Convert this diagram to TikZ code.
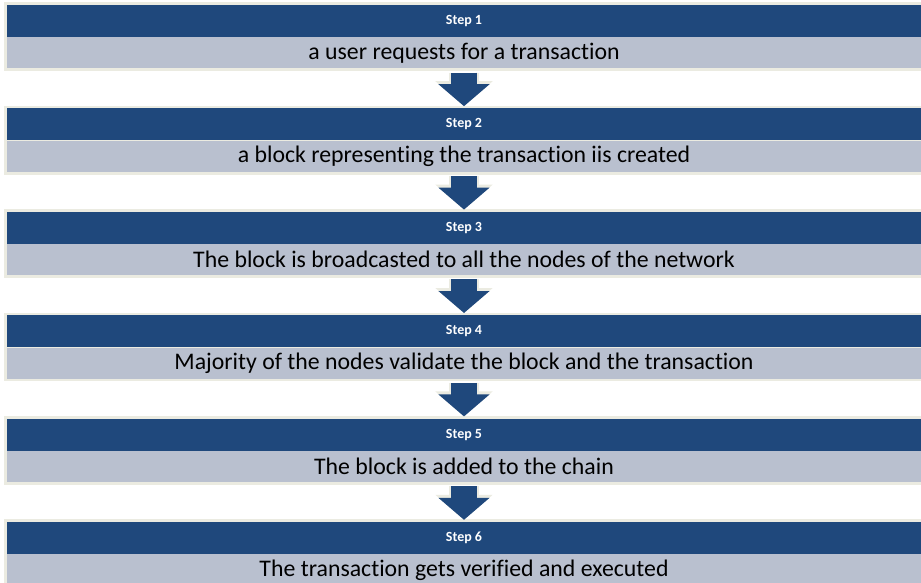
\documentclass[tikz,border=0pt]{standalone}
\usepackage{fontspec}
\setmainfont{Carlito}[Ligatures=NoCommon]
\usepackage{xcolor}
\usetikzlibrary{positioning,fit,backgrounds,arrows.meta}

\definecolor{stepblue}{HTML}{1F487C}
\definecolor{steplight}{HTML}{B9C0CF}
\definecolor{stepedge}{HTML}{EBEBE1}

\begin{document}
\begin{tikzpicture}[x=1pt,y=1pt,
  stephead/.style={fill=stepblue, text=white, font=\bfseries\fontsize{14}{16}\selectfont,
    minimum width=914pt, minimum height=32pt, inner sep=0pt},
  stepbody/.style={fill=steplight, text=black, font=\fontsize{23.8}{26}\selectfont,
    minimum width=914pt, minimum height=31pt, inner sep=0pt},
  stepframe/.style={fill=stepedge, inner sep=2.5pt},
  flow/.style={draw=stepblue, line width=26pt, shorten <=4pt, shorten >=2pt,
    -{Triangle[width=50pt, length=22pt]},
    preaction={draw=stepedge, line width=30pt, -{Triangle[width=56pt, length=25pt]}}}]
\useasboundingbox (0,0) rectangle (921,-582);

% Step 1
\node[stephead] (h1) at (464,-21) {Step 1};
\node[stepbody, below=0pt of h1] (b1) {a user requests for a transaction};

% Step 2
\node[stephead, below=39.6pt of b1] (h2) {Step 2};
\node[stepbody, below=0pt of h2] (b2) {a block representing the transaction iis created};

% Step 3
\node[stephead, below=39.6pt of b2] (h3) {Step 3};
\node[stepbody, below=0pt of h3] (b3) {The block is broadcasted to all the nodes of the network};

% Step 4
\node[stephead, below=39.6pt of b3] (h4) {Step 4};
\node[stepbody, below=0pt of h4] (b4) {Majority of the nodes validate the block and the transaction};

% Step 5
\node[stephead, below=39.6pt of b4] (h5) {Step 5};
\node[stepbody, below=0pt of h5] (b5) {The block is added to the chain};

% Step 6
\node[stephead, below=39.6pt of b5] (h6) {Step 6};
\node[stepbody, below=0pt of h6] (b6) {The transaction gets verified and executed};

% Light frames behind each step
\begin{scope}[on background layer]
\node[stepframe, fit=(h1)(b1)] (f1) {};
\node[stepframe, fit=(h2)(b2)] (f2) {};
\node[stepframe, fit=(h3)(b3)] (f3) {};
\node[stepframe, fit=(h4)(b4)] (f4) {};
\node[stepframe, fit=(h5)(b5)] (f5) {};
\node[stepframe, fit=(h6)(b6)] (f6) {};
\end{scope}

% Arrows between steps
\draw[flow] (b1) -- (h2);
\draw[flow] (b2) -- (h3);
\draw[flow] (b3) -- (h4);
\draw[flow] (b4) -- (h5);
\draw[flow] (b5) -- (h6);

\end{tikzpicture}
\end{document}
